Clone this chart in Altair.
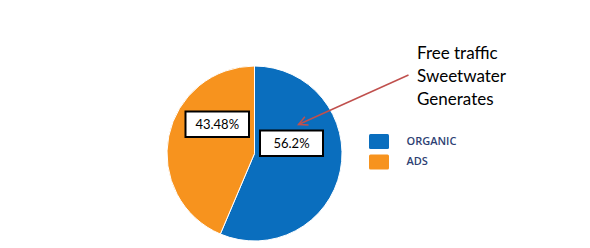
import altair as alt
import pandas as pd

# ---- data ----
categories = ["ORGANIC", "ADS"]
values = [56.2, 43.48]
labels = ["56.2%", "43.48%"]
note_lines = ["Free traffic", "Sweetwater", "Generates"]

# ---- styles / layout constants ----
COLORS = ["#0A6EBE", "#F7931E"]
CX, CY, R = 254.5, 153.5, 87.5
BOXES = {  # x0, x1, y0, y1 of annotation boxes
    "ORGANIC": (260, 323, 130.5, 156),
    "ADS": (185.5, 249, 111.5, 137),
}
ARROW = dict(x0=408.5, y0=75, x1=298.5, y1=124.5)

pie_df = pd.DataFrame({"category": categories, "value": values,
                       "idx": list(range(len(categories))), "label": labels})

legend_symbol = ("M-0.85,-0.75 H0.85 Q1,-0.75 1,-0.6 V0.6 Q1,0.75 0.85,0.75 "
                 "H-0.85 Q-1,0.75 -1,0.6 V-0.6 Q-1,-0.75 -0.85,-0.75 Z")

pie = alt.Chart(pie_df).mark_arc(radius=R, stroke="white", strokeWidth=1).encode(
    theta=alt.Theta("value:Q", stack=True),
    order=alt.Order("idx:Q"),
    color=alt.Color(
        "category:N",
        scale=alt.Scale(domain=categories, range=COLORS),
        legend=alt.Legend(
            title=None, orient="none", legendX=369, legendY=131.5,
            symbolType=legend_symbol, symbolSize=400, symbolStrokeWidth=0,
            symbolOpacity=1, rowPadding=2.5, labelOffset=17.5, padding=0,
            labelFont="Open Sans", labelFontSize=11, labelFontWeight=600,
            labelColor="#2E3F73",
        ),
    ),
    x=alt.value(CX),
    y=alt.value(CY),
)

layers = [pie]
for cat in categories:
    x0, x1, y0, y1 = BOXES[cat]
    base = alt.Chart(pie_df).transform_filter(alt.datum.category == cat)
    box = base.mark_rect(fill="white", stroke="black", strokeWidth=2).encode(
        x=alt.value(x0), x2=alt.value(x1), y=alt.value(y0), y2=alt.value(y1)
    )
    txt = base.mark_text(font="Lato", fontSize=13, color="black",
                         align="center", baseline="middle").encode(
        text="label:N",
        x=alt.value((x0 + x1) / 2), y=alt.value((y0 + y1) / 2 + 0.5),
    )
    layers += [box, txt]

note_df = pd.DataFrame({"t": ["\n".join(note_lines)]})
note = alt.Chart(note_df).mark_text(
    font="Lato", fontSize=17, color="black", align="left",
    baseline="alphabetic", lineBreak="\n", lineHeight=23,
).encode(text="t:N", x=alt.value(417), y=alt.value(58.5))

arrow_df = pd.DataFrame({"a": [1]})
arrow_line = alt.Chart(arrow_df).mark_rule(color="#C0504D", strokeWidth=1.5).encode(
    x=alt.value(ARROW["x0"]), y=alt.value(ARROW["y0"]),
    x2=alt.value(ARROW["x1"]), y2=alt.value(ARROW["y1"]),
)
arrow_head = alt.Chart(arrow_df).mark_point(
    shape="M-0.5,1 L0,0 L0.5,1", filled=False, color="#C0504D",
    strokeWidth=1.5, size=324, angle=246, opacity=1,
).encode(x=alt.value(ARROW["x1"]), y=alt.value(ARROW["y1"]))

layers += [note, arrow_line, arrow_head]

chart = alt.layer(*layers).properties(
    width=590, height=248, autosize="none", padding=0
).configure_view(stroke=None)

chart.save("out.html", embed_options={"renderer": "svg", "actions": False})
